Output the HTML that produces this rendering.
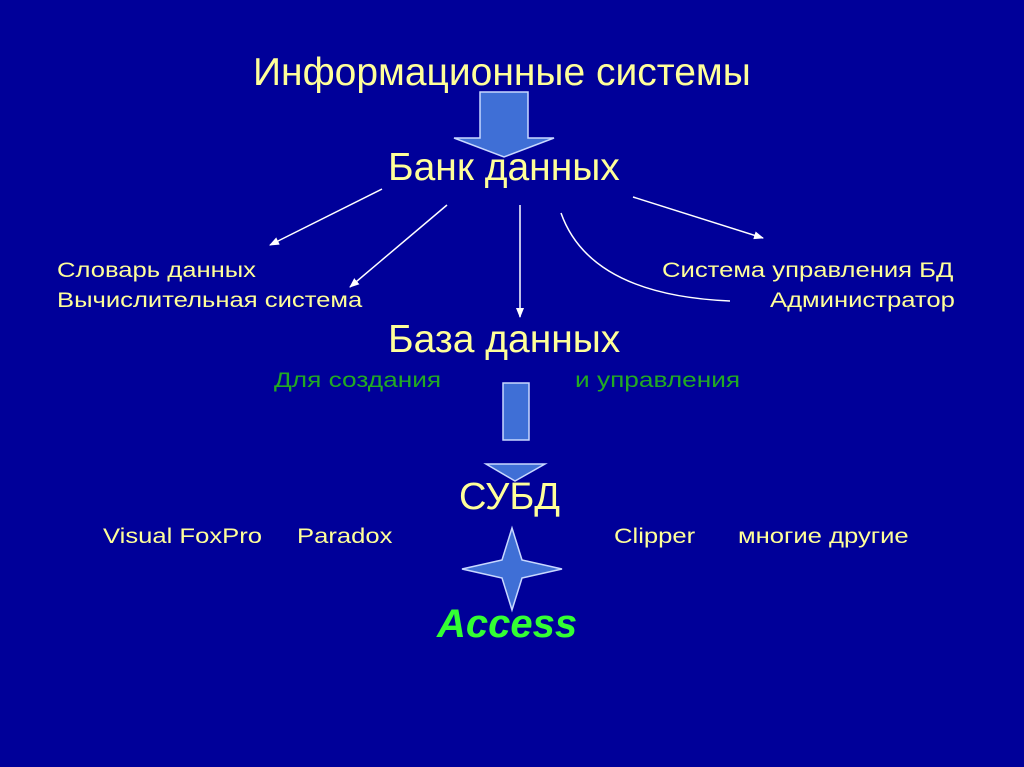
<!DOCTYPE html>
<html><head><meta charset="utf-8"><style>
body{margin:0;width:1024px;height:767px;background:#000099;overflow:hidden;position:relative;font-family:"Liberation Sans",sans-serif}
.t{position:absolute;color:#ffff99;white-space:nowrap;line-height:1}
.s{font-size:21px;transform:scaleX(1.22);transform-origin:left top}
.g{position:absolute;color:#22aa22;white-space:nowrap;line-height:1;font-size:21px;transform:scaleX(1.25);transform-origin:left top}
svg{position:absolute;left:0;top:0}
</style></head><body>
<svg width="1024" height="767">
<defs><marker id="a" markerWidth="10" markerHeight="8" refX="9" refY="4" orient="auto" markerUnits="userSpaceOnUse"><path d="M0,0 L10,4 L0,8 Z" fill="#fff"/></marker></defs>
<polygon points="480,92 528,92 528,138 554,138 504,157 454,138 480,138" fill="#3f6fd6" stroke="#c8d8ff" stroke-width="1.5"/>
<g stroke="#fff" stroke-width="1.5" fill="none">
<line x1="382" y1="189" x2="270" y2="245" marker-end="url(#a)"/>
<line x1="447" y1="205" x2="350" y2="287" marker-end="url(#a)"/>
<line x1="520" y1="205" x2="520" y2="317" marker-end="url(#a)"/>
<path d="M561,213 Q590,295 730,301"/>
<line x1="633" y1="197" x2="763" y2="238" marker-end="url(#a)"/>
</g>
<rect x="503" y="383" width="26" height="57" fill="#3f6fd6" stroke="#c8d8ff" stroke-width="1.5"/>
<polygon points="486,464 545,464 515,481" fill="#3f6fd6" stroke="#c8d8ff" stroke-width="1.5"/>
<polygon points="512,528 522,560 562,569 522,578 512,610 502,578 462,569 502,560" fill="#3f6fd6" stroke="#c8d8ff" stroke-width="1.5"/>
</svg>
<div class="t" style="left:253px;top:53px;font-size:39px">Информационные системы</div>
<div class="t" style="left:388px;top:148px;font-size:39px">Банк данных</div>
<div class="t s" style="left:57px;top:260px">Словарь данных</div>
<div class="t s" style="left:57px;top:290px">Вычислительная система</div>
<div class="t s" style="left:662px;top:260px">Система управления БД</div>
<div class="t s" style="left:770px;top:290px">Администратор</div>
<div class="t" style="left:388px;top:320px;font-size:39px">База данных</div>
<div class="g" style="left:274px;top:370px">Для создания</div>
<div class="g" style="left:575px;top:370px">и управления</div>
<div class="t" style="left:459px;top:478px;font-size:38px">СУБД</div>
<div class="t s" style="left:103px;top:526px">Visual FoxPro</div>
<div class="t s" style="left:297px;top:526px">Paradox</div>
<div class="t s" style="left:614px;top:526px">Clipper</div>
<div class="t s" style="left:738px;top:526px">многие другие</div>
<div class="t" style="left:437px;top:604px;font-size:40px;font-weight:bold;font-style:italic;color:#33ff33">Access</div>
</body></html>
